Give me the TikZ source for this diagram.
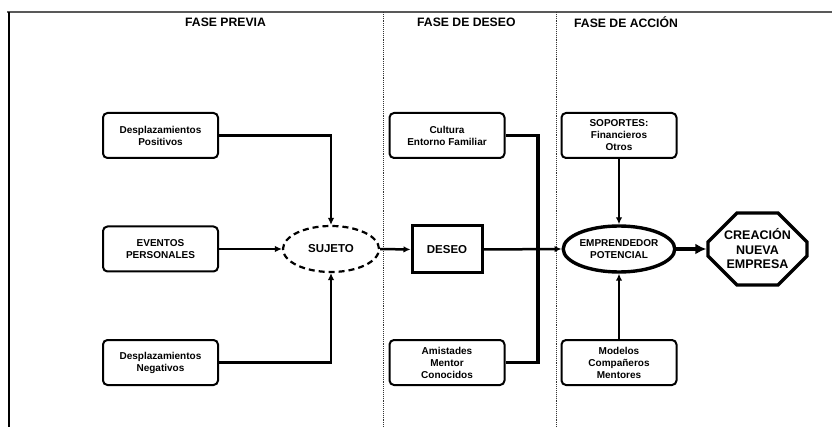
\documentclass[tikz,border=0pt]{standalone}
\usepackage{fontspec}
\setmainfont{Liberation Sans}
\usetikzlibrary{arrows.meta,shapes.geometric,shapes.misc}
\tikzset{
  box/.style={draw, rounded corners=4.5pt, line width=2pt, minimum width=115pt, minimum height=45pt,
    align=center, inner sep=1pt, font=\fontsize{10}{12}\selectfont\bfseries},
  hdr/.style={anchor=west, inner sep=0pt, font=\fontsize{12.2}{14}\selectfont\bfseries},
  arr/.style={line width=2.2pt, -{Latex[length=7pt,width=6.5pt]}},
  divider/.style={densely dotted, line width=0.9pt, black!80},
}
\begin{document}
\begin{tikzpicture}[x=1pt,y=-1pt]
\useasboundingbox (0,0) rectangle (832,427);
% frame
\draw[line width=2.2pt, black!65] (7,12) -- (832,12);
\draw[line width=1.1pt] (9,12) -- (9,427);
\draw[divider] (383,12) -- (383,427);
\draw[divider] (556,12) -- (556,427);
% headers
\node[hdr] (h1) at (185,22) {FASE PREVIA};
\node[hdr] (h2) at (417,22) {FASE DE DESEO};
\node[hdr] (h3) at (574,22) {FASE DE ACCIÓN};
% left column
\node[box] (pos) at (160.5,135.5) {Desplazamientos\\Positivos};
\node[box] (evt) at (160.5,249) {EVENTOS\\PERSONALES};
\node[box] (neg) at (160.5,362.5) {Desplazamientos\\Negativos};
\node[draw, ellipse, dashed, dash pattern=on 6pt off 4pt, line width=2.2pt, minimum width=96pt, minimum height=46pt,
  inner sep=0pt, font=\fontsize{11.5}{13}\selectfont\bfseries] (suj) at (331,249) {SUJETO};
% middle column
\node[box] (cul) at (447,135.5) {Cultura\\Entorno Familiar};
\node[draw, line width=3pt, minimum width=70pt, minimum height=47pt, inner sep=0pt,
  font=\fontsize{11.5}{13}\selectfont\bfseries] (des) at (447,249.5) {DESEO};
\node[box] (ami) at (447,362.5) {Amistades\\Mentor\\Conocidos};
% right column
\node[box] (sop) at (619,135.5) {SOPORTES:\\Financieros\\Otros};
\node[draw, ellipse, line width=3.4pt, minimum width=96pt, minimum height=46pt, inner sep=0pt, align=center,
  font=\fontsize{10}{12}\selectfont\bfseries] (emp) at (619,249) {EMPRENDEDOR\\POTENCIAL};
\node[box] (mod) at (619,362.5) {Modelos\\Compañeros\\Mentores};
\node[draw, chamfered rectangle, chamfered rectangle xsep=14pt, chamfered rectangle ysep=15pt,
  line width=3.4pt, minimum width=99pt, minimum height=72pt, inner sep=0pt, align=center,
  font=\fontsize{12.5}{14.5}\selectfont\bfseries] (cre) at (757.5,249) {CREACIÓN\\NUEVA\\EMPRESA};
% connectors
\draw[arr] (pos.east) -| (suj.north);
\draw[arr] (evt.east) -- (suj.west);
\draw[arr] (neg.east) -| (suj.south);
\draw[arr, line width=2.5pt] (suj.east) -- (des.west);
\coordinate (j1) at (538,135.5);
\coordinate (j2) at (538,362.5);
\draw[line width=3.4pt, line join=miter] (cul.east) -- (j1) -- (j2) -- (ami.east);
\draw[arr, line width=2.5pt] (des.east) -- (emp.west);
\draw[arr, line width=2.5pt] (sop.south) -- (emp.north);
\draw[arr, line width=2.5pt] (mod.north) -- (emp.south);
\draw[line width=3.8pt, -{Latex[length=11pt,width=11pt]}] (emp.east) -- (cre.west);
\end{tikzpicture}
\end{document}
